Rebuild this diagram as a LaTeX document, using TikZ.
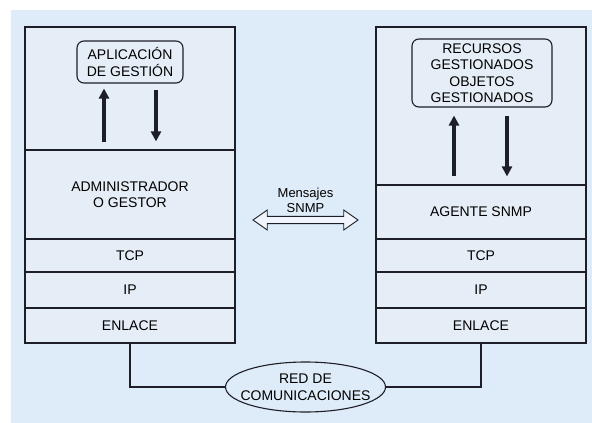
\documentclass[tikz,border=0pt]{standalone}
\usepackage{fontspec}
\setmainfont{Liberation Sans}
\usetikzlibrary{shapes.geometric,shapes.arrows,arrows.meta}
\definecolor{bgblue}{HTML}{DEEBF8}
\definecolor{boxfill}{HTML}{E5EEF6}
\definecolor{ink}{HTML}{1E1E28}
\tikzset{
  layer/.style={draw=ink, line width=1.2pt, fill=boxfill, minimum width=210pt, inner sep=0pt, font=\fontsize{14}{16.5}\selectfont, align=center},
  rbox/.style={draw=ink, line width=1.1pt, rounded corners=7pt, inner sep=0pt, font=\fontsize{14}{16.5}\selectfont, align=center},
  bigarr/.style={ink, line width=3.6pt, -{Triangle[length=10pt,width=10pt]}},
  wire/.style={draw=ink, line width=1.2pt},
}
\begin{document}
\begin{tikzpicture}[x=1pt,y=-1pt]
\useasboundingbox (0,0) rectangle (592,423);
\fill[white] (0,0) rectangle (592,423);
\fill[bgblue] (11,10) rectangle (592,423);
% left stack
\node[layer, minimum height=123pt] (lapp) at (130,88.5) {};
\node[layer, minimum height=89pt] (ladm) at (130,194.5) {ADMINISTRADOR\\O GESTOR};
\node[layer, minimum height=33pt] (ltcp) at (130,255.5) {TCP};
\node[layer, minimum height=36pt] (lip) at (130,290) {IP};
\node[layer, minimum height=35pt] (lenl) at (130,325.5) {ENLACE};
% right stack
\node[layer, minimum height=158pt] (rapp) at (481,106) {};
\node[layer, minimum height=54pt] (rage) at (481,212) {AGENTE SNMP};
\node[layer, minimum height=33pt] (rtcp) at (481,255.5) {TCP};
\node[layer, minimum height=36pt] (rip) at (481,290) {IP};
\node[layer, minimum height=35pt] (renl) at (481,325.5) {ENLACE};
% rounded boxes
\node[rbox, minimum width=106pt, minimum height=42pt] (lgest) at (130,62) {APLICACIÓN\\DE GESTIÓN};
\node[rbox, minimum width=140pt, minimum height=68pt] (rrec) at (482,73) {RECURSOS\\GESTIONADOS\\OBJETOS\\GESTIONADOS};
% vertical arrows left
\draw[bigarr, shorten <=7pt, shorten >=5pt] ([xshift=-26pt]ladm.north) -- ([xshift=-26pt]ladm.north |- lgest.south);
\draw[bigarr, shorten <=6pt, shorten >=8pt] ([xshift=26pt]ladm.north |- lgest.south) -- ([xshift=26pt]ladm.north);
% vertical arrows right
\draw[bigarr, shorten <=8pt, shorten >=8pt] ([xshift=-27pt]rage.north) -- ([xshift=-27pt]rage.north |- rrec.south);
\draw[bigarr, shorten <=8pt, shorten >=8pt] ([xshift=26pt]rage.north |- rrec.south) -- ([xshift=26pt]rage.north);
% messages
\node[font=\fontsize{13}{15}\selectfont, align=center, inner sep=0pt] (msg) at (305.5,200) {Mensajes\\SNMP};
\node[draw=ink, line width=0.9pt, fill=white!40!boxfill, double arrow, double arrow head extend=6pt, double arrow tip angle=70, inner sep=3pt, minimum height=105pt, minimum width=20pt] (msgarr) at (305.5,220) {};
% network
\node[draw=ink, line width=1.1pt, ellipse, minimum width=160pt, minimum height=50pt, inner sep=0pt] (red) at (305.5,387) {};
\node[font=\fontsize{14}{16.5}\selectfont, align=center, inner sep=0pt] (redtxt) at (305.5,387) {RED DE\\COMUNICACIONES};
\draw[wire] (lenl.south) |- (red.west);
\draw[wire] (renl.south) |- (red.east);
\end{tikzpicture}
\end{document}
